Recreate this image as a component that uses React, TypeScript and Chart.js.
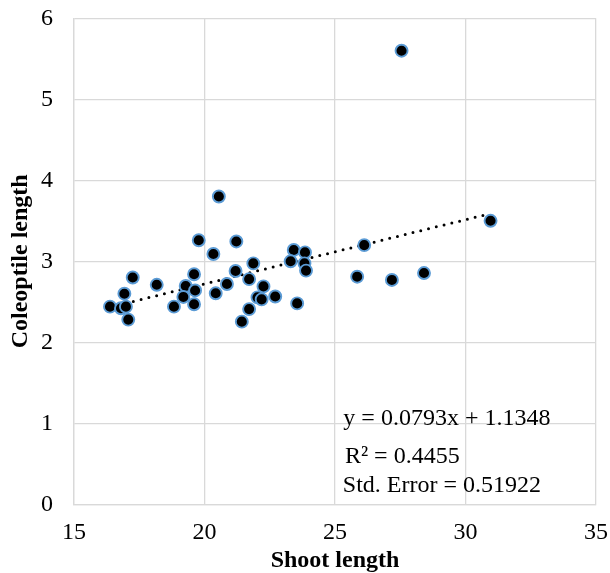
import { useEffect, useRef } from "react";
import { Chart, registerables } from "chart.js";

Chart.register(...registerables);

// ---- data ----
const shootLength = [
  27.55, 20.55, 30.96, 19.78, 21.22, 20.34, 26.12, 23.42, 23.85, 23.3,
  23.83, 23.89, 21.87, 21.19, 21.71, 25.85, 27.18, 28.41, 17.25, 18.17,
  19.6, 20.86, 19.28, 19.64, 20.43, 22.26, 16.93, 19.19, 22.03, 22.71,
  19.6, 18.83, 16.38, 16.8, 16.99, 17.08, 22.19, 21.71, 21.43, 23.55,
];
const coleoptileLength = [
  5.6, 3.8, 3.5, 3.26, 3.245, 3.09, 3.2, 3.14, 3.11, 3.0,
  2.975, 2.885, 2.975, 2.88, 2.78, 2.81, 2.77, 2.855, 2.8, 2.71,
  2.84, 2.72, 2.695, 2.64, 2.605, 2.69, 2.6, 2.56, 2.555, 2.565,
  2.47, 2.44, 2.44, 2.42, 2.44, 2.28, 2.53, 2.41, 2.255, 2.48,
];
const xTickValues = [15, 20, 25, 30, 35];
const yTickValues = [0, 1, 2, 3, 4, 5, 6];
const TREND_SLOPE = 0.0793;
const TREND_INTERCEPT = 1.1348;
const statLabels = ["y = 0.0793x + 1.1348", "R\u00B2 = 0.4455", "Std. Error = 0.51922"];

// ---- layout / style constants ----
const FONT = "'Liberation Serif', 'Times New Roman', serif";
const statAnchors: [number, number][] = [
  [25.32, 1.053],
  [25.38, 0.584],
  [25.3, 0.226],
];

const statPlugin = {
  id: "statText",
  afterDraw(chart: any) {
    const { ctx } = chart;
    const xs = chart.scales.x;
    const ys = chart.scales.y;
    ctx.save();
    ctx.font = `24px ${FONT}`;
    ctx.fillStyle = "#000";
    ctx.textBaseline = "middle";
    ctx.textAlign = "left";
    statLabels.forEach((t, i) => {
      ctx.fillText(t, xs.getPixelForValue(statAnchors[i][0]), ys.getPixelForValue(statAnchors[i][1]));
    });
    ctx.restore();
  },
};

export default function App() {
  const ref = useRef<HTMLCanvasElement>(null);

  useEffect(() => {
    const points = shootLength.map((x, i) => ({ x, y: coleoptileLength[i] }));
    const xMin = Math.min(...shootLength);
    const xMax = Math.max(...shootLength);
    const trend = [
      { x: xMin, y: TREND_SLOPE * xMin + TREND_INTERCEPT },
      { x: xMax, y: TREND_SLOPE * xMax + TREND_INTERCEPT },
    ];
    const gridColor = "#d9d9d9";
    const chart = new Chart(ref.current as HTMLCanvasElement, {
      type: "scatter",
      data: {
        datasets: [
          {
            type: "scatter",
            data: points,
            backgroundColor: "#000",
            borderColor: "#5B9BD5",
            pointBackgroundColor: "#000",
            pointBorderColor: "#5B9BD5",
            pointRadius: 6,
            pointBorderWidth: 1.9,
            borderWidth: 1.9,
            order: 0,
          } as any,
          {
            type: "line",
            data: trend,
            borderColor: "#000",
            borderWidth: 3,
            borderDash: [0, 8],
            borderCapStyle: "round",
            pointRadius: 0,
            fill: false,
            order: 1,
          } as any,
        ],
      },
      options: {
        animation: false,
        responsive: false,
        events: [],
        layout: { padding: { top: 18.3, right: 14, left: 0, bottom: 0 } },
        plugins: { legend: { display: false }, tooltip: { enabled: false } },
        scales: {
          x: {
            type: "linear",
            min: xTickValues[0],
            max: xTickValues[xTickValues.length - 1],
            afterBuildTicks: (s: any) => {
              s.ticks = xTickValues.map((v) => ({ value: v }));
            },
            afterFit: (s: any) => {
              s.height = 68.7;
              s.paddingLeft = 0;
              s.paddingRight = 0;
            },
            ticks: {
              padding: 14,
              color: "#000",
              font: { family: FONT, size: 24 },
              maxRotation: 0,
              autoSkip: false,
            },
            grid: { color: gridColor, lineWidth: 1.3, drawTicks: false },
            border: { display: true, color: gridColor, width: 1.3 },
            title: {
              display: true,
              text: "Shoot length",
              color: "#000",
              font: { family: FONT, size: 24, weight: "bold", lineHeight: 1 },
              padding: 0,
            },
          },
          y: {
            type: "linear",
            min: yTickValues[0],
            max: yTickValues[yTickValues.length - 1],
            afterBuildTicks: (s: any) => {
              s.ticks = yTickValues.map((v) => ({ value: v }));
            },
            afterFit: (s: any) => {
              s.width = 74;
              s.paddingTop = 0;
              s.paddingBottom = 0;
            },
            ticks: {
              padding: 21,
              color: "#000",
              font: { family: FONT, size: 24 },
            },
            grid: { color: gridColor, lineWidth: 1.3, drawTicks: false },
            border: { display: true, color: gridColor, width: 1.3 },
            title: {
              display: true,
              text: "Coleoptile length",
              color: "#000",
              font: { family: FONT, size: 24, weight: "bold", lineHeight: 1 },
              padding: { top: 9, bottom: 0 },
            },
          },
        },
      } as any,
      plugins: [statPlugin],
    });
    return () => chart.destroy();
  }, []);

  return (
    <div style={{ position: "fixed", left: 0, top: 0, width: 610, height: 573, background: "#fff" }}>
      <canvas ref={ref} width={610} height={573} style={{ display: "block", width: 610, height: 573 }} />
    </div>
  );
}
